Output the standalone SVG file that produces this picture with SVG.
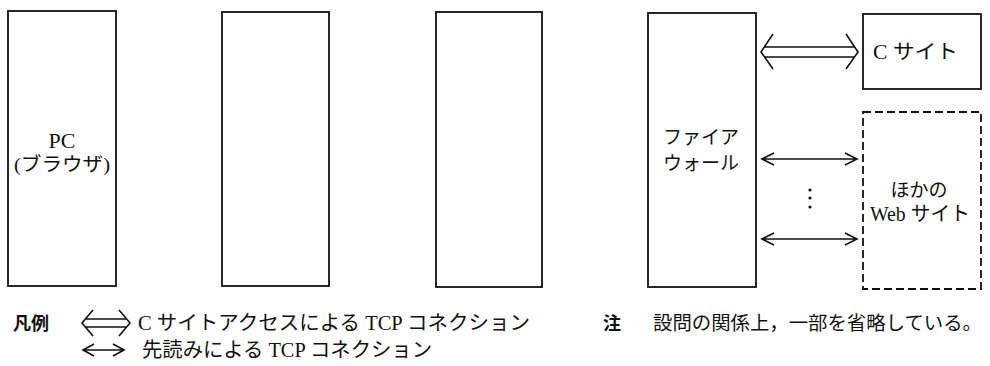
<svg xmlns="http://www.w3.org/2000/svg" width="990" height="366" viewBox="0 0 990 366">
<style>
.box{fill:#fff;stroke:#111;stroke-width:1.8}
.dash{fill:#fff;stroke:#111;stroke-width:1.8;stroke-dasharray:8 4}
.ln{fill:none;stroke:#111;stroke-width:1.6;stroke-linejoin:miter}
.t{font-family:"Liberation Serif","Noto Sans CJK JP",serif;font-size:18px;fill:#111}
.c{text-anchor:middle}
.g{font-family:"Noto Sans CJK JP",sans-serif;font-weight:bold;font-size:18px;fill:#111}
.n{font-family:"Noto Sans CJK JP",sans-serif;font-size:19px;fill:#111}
</style>
<rect width="990" height="366" fill="#fff"/>
<g id="pc"><rect class="box" x="8" y="11" width="108" height="275"/>
<text class="t c" x="62" y="148" style="font-size:22px">PC</text>
<text class="t c" x="62" y="171" style="font-size:19px" textLength="96" lengthAdjust="spacingAndGlyphs">(ブラウザ)</text></g>
<g id="box2"><rect class="box" x="222" y="12" width="107" height="274"/></g>
<g id="box3"><rect class="box" x="436" y="12" width="106" height="275"/></g>
<g id="firewall"><rect class="box" x="648" y="13" width="108" height="274"/>
<text class="t c" x="701" y="144" style="font-size:19px">ファイア</text>
<text class="t c" x="701" y="170" style="font-size:19px">ウォール</text></g>
<g id="csite"><rect class="box" x="863" y="14" width="118" height="75"/>
<text class="t" x="873" y="59" style="font-size:20px" textLength="85" lengthAdjust="spacingAndGlyphs">C サイト</text></g>
<g id="othersites"><rect class="dash" x="863" y="112" width="118" height="177"/>
<text class="t c" x="919" y="197" style="font-size:19px">ほかの</text>
<text class="t" x="870" y="221" style="font-size:20px" textLength="100" lengthAdjust="spacingAndGlyphs">Web サイト</text></g>
<g id="connectors">
<path class="ln" d="M765 47H855M765 57H855M773 34L761 52L773 69M846 34L858 52L846 69"/>
<path class="ln" d="M762 159H857M774 153L762 159L774 165M845 153L857 159L845 165"/>
<path class="ln" d="M762 239H857M774 233L762 239L774 245M845 233L857 239L845 245"/>
<circle cx="810" cy="190" r="1.6" fill="#111"/>
<circle cx="810" cy="198" r="1.6" fill="#111"/>
<circle cx="810" cy="207" r="1.6" fill="#111"/>
</g>
<g id="legend">
<text class="g" x="13" y="330">凡例</text>
<path class="ln" d="M86 319H126M86 327H126M93 310L82 323L93 336M119 310L130 323L119 336"/>
<text class="t" x="138" y="330" style="font-size:20px" textLength="392" lengthAdjust="spacingAndGlyphs">C サイトアクセスによる TCP コネクション</text>
<path class="ln" d="M83 350H124M94 344L83 350L94 356M113 344L124 350L113 356"/>
<text class="t" x="142" y="357" style="font-size:20px" textLength="290" lengthAdjust="spacingAndGlyphs">先読みによる TCP コネクション</text>
</g>
<g id="note">
<text class="g" x="603" y="330">注</text>
<text class="n" x="653" y="330" textLength="329" lengthAdjust="spacingAndGlyphs">設問の関係上，一部を省略している。</text>
</g>
</svg>
